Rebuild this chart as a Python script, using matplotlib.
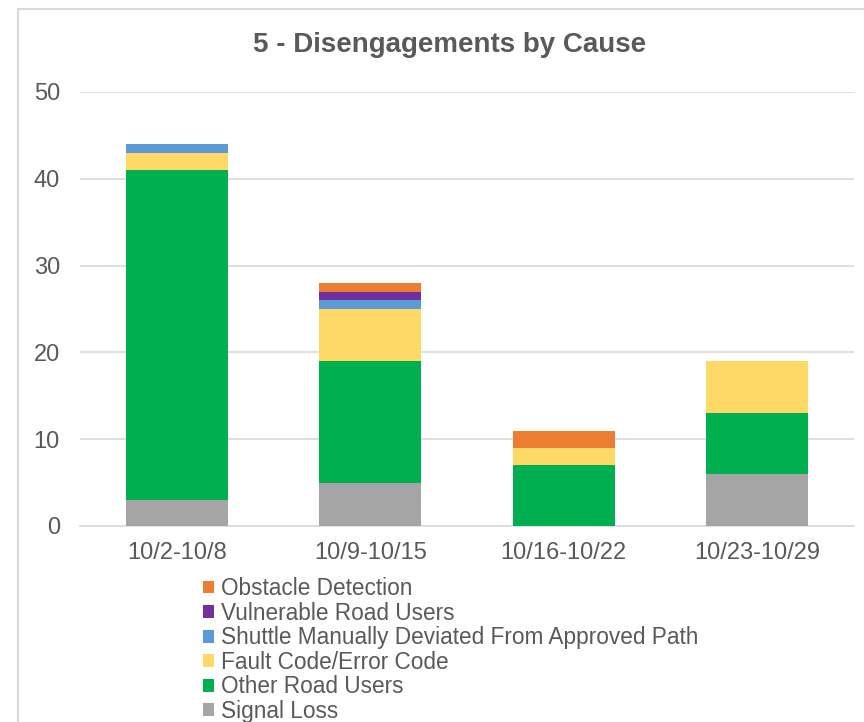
import matplotlib.pyplot as plt
from matplotlib.patches import Rectangle
import numpy as np

plt.rcParams["font.family"] = ["Liberation Sans", "DejaVu Sans"]

weeks = ["10/2-10/8", "10/9-10/15", "10/16-10/22", "10/23-10/29"]

# stacked bottom-to-top
signal_loss = [3, 5, 0, 6]
other_road_users = [38, 14, 7, 7]
fault_code = [2, 6, 2, 6]
shuttle_deviated = [1, 1, 0, 0]
vulnerable_road_users = [0, 1, 0, 0]
obstacle_detection = [0, 1, 2, 0]

series = [
    ("Signal Loss", signal_loss, "#A5A5A5"),
    ("Other Road Users", other_road_users, "#00B050"),
    ("Fault Code/Error Code", fault_code, "#FFD966"),
    ("Shuttle Manually Deviated From Approved Path", shuttle_deviated, "#5B9BD5"),
    ("Vulnerable Road Users", vulnerable_road_users, "#7030A0"),
    ("Obstacle Detection", obstacle_detection, "#ED7D31"),
]

W, H = 864, 722
fig = plt.figure(figsize=(W / 100, H / 100), dpi=100)

# chart-area border (cropped on the right and bottom)
fig.patches.append(Rectangle((18 / W, -0.05), 1.1, 1 - 9 / H + 0.05,
                             transform=fig.transFigure, fill=False,
                             edgecolor="#D9D9D9", lw=1.5))

ax = fig.add_axes([80 / W, 1 - 526 / H, (854 - 80) / W, (526 - 92) / H])

x = np.arange(len(weeks))
bottom = np.zeros(len(weeks))
handles = []
for name, vals, color in series:
    vals = np.array(vals, dtype=float)
    b = ax.bar(x, vals, 0.527, bottom=bottom, color=color, label=name, zorder=3)
    handles.append(b)
    bottom += vals

ax.set_xlim(-0.5, len(weeks) - 0.5)
ax.set_ylim(0, 50)
ax.set_yticks(range(0, 51, 10))
ax.set_xticks(x)
ax.set_xticklabels(weeks)
ax.yaxis.grid(True, color="#D9D9D9", lw=1.2, zorder=0)
ax.set_axisbelow(True)
for side in ["top", "right", "left"]:
    ax.spines[side].set_visible(False)
ax.spines["bottom"].set_color("#D9D9D9")
ax.spines["bottom"].set_linewidth(1.2)
ax.tick_params(axis="both", length=0, labelsize=17, colors="#595959")
ax.tick_params(axis="y", pad=14.5)
ax.tick_params(axis="x", pad=11.5)

fig.text(450 / W, 1 - 45 / H, "5 - Disengagements by Cause", ha="center",
         va="center", fontsize=20, fontweight="bold", color="#595959")

leg = fig.legend(handles[::-1], [s[0] for s in series][::-1],
                 loc="upper left", bbox_to_anchor=(203 / W, 1 - 577 / H),
                 frameon=False, fontsize=16.3, handlelength=0.5,
                 handleheight=0.5, handletextpad=0.3, labelspacing=0.07,
                 borderpad=0, borderaxespad=0)
for t in leg.get_texts():
    t.set_color("#595959")

fig.savefig("out.png", dpi=100)
